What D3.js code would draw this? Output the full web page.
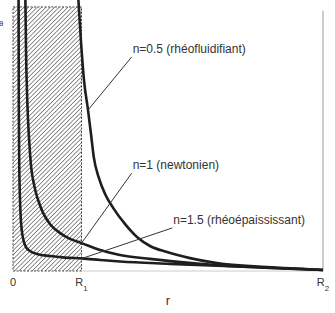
<!DOCTYPE html>
<html lang="fr">
<head>
    <meta charset="UTF-8">
    <title>Couette - profils</title>
    <script src="https://d3js.org/d3.v7.min.js"></script>
    <style>
        body { margin: 0; background: #fff; }
        text { font-family: "Liberation Sans", Arial, sans-serif; fill: #333; }
    </style>
</head>
<body>
    <div id="chart"></div>
    <script>
        // radius positions (R2 = 1) and values
        var R1 = 0.221, R2 = 1;

        var rA = [0.208, 0.211, 0.219, 0.229, 0.242, 0.252, 0.261, 0.277, 0.297, 0.323, 0.361, 0.400, 0.442, 0.497, 0.571, 0.658, 0.819, 1.0];
        var vA = [108.7, 103.0, 87.8, 72.6, 61.2, 51.7, 43.0, 35.4, 29.3, 24.0, 17.9, 12.9, 9.5, 7.2, 4.9, 3.0, 1.5, 0.4];

        var rB = [0.039, 0.040, 0.042, 0.046, 0.052, 0.058, 0.068, 0.081, 0.097, 0.119, 0.152, 0.184, 0.221, 0.281, 0.345, 0.442, 0.603, 0.765, 1.0];
        var vB = [108.7, 103.0, 84.0, 65.0, 49.8, 40.3, 32.7, 27.0, 22.1, 17.9, 14.4, 12.2, 10.6, 8.0, 6.1, 4.6, 2.7, 1.5, 0.4];

        var rC = [0.0177, 0.018, 0.0187, 0.020, 0.0226, 0.0258, 0.0323, 0.0419, 0.0548, 0.0774, 0.119, 0.168, 0.222, 0.281, 0.345, 0.506, 0.765, 1.0];
        var vC = [108.7, 103.0, 65.0, 42.2, 27.0, 18.6, 12.5, 9.1, 7.6, 6.5, 5.7, 5.1, 4.8, 4.2, 3.6, 2.7, 1.5, 0.4];

        var seriesNames = ["n=0.5 (rhéofluidifiant)", "n=1 (newtonien)", "n=1.5 (rhéoépaississant)"];
        // where each leader line touches its curve (r, value)
        var leaderR = [0.242, R1, R1];
        var leaderV = [61.2, 10.6, 4.7];
        // label anchor (r, value)
        var labelR = [0.386, 0.386, 0.517];
        var labelV = [82.9, 38.7, 17.9];

        var tickPos = [0, R1, R2];
        var tickMain = ["0", "R", "R"];
        var tickSub = ["", "1", "2"];

        var W = 335, H = 313;
        var x = d3.scaleLinear().domain([0, 1]).range([13, 323]);
        var y = d3.scaleLinear().domain([0, 100]).range([271, 8]);

        var svg = d3.select("#chart").append("svg")
            .attr("width", W).attr("height", H);

        // hatch pattern for the inner cylinder zone
        var pat = svg.append("defs").append("pattern")
            .attr("id", "hatch")
            .attr("patternUnits", "userSpaceOnUse")
            .attr("width", 3.1).attr("height", 3.1)
            .attr("patternTransform", "rotate(45)");
        pat.append("line")
            .attr("x1", 0).attr("y1", 0).attr("x2", 0).attr("y2", 3.1)
            .attr("stroke", "#555").attr("stroke-width", 1.3);

        svg.append("rect")
            .attr("x", x(0)).attr("y", y(100.4))
            .attr("width", x(R1) - x(0)).attr("height", y(0) - y(100.4))
            .attr("fill", "url(#hatch)")
            .attr("stroke", "#444").attr("stroke-width", 1)
            .attr("stroke-dasharray", "2,1.5");

        // outer wall and bottom
        svg.append("line")
            .attr("x1", x(R2)).attr("x2", x(R2))
            .attr("y1", y(99)).attr("y2", y(0))
            .attr("stroke", "#bbb").attr("stroke-width", 1.5);
        svg.append("line")
            .attr("x1", x(R1)).attr("x2", x(R2))
            .attr("y1", y(0)).attr("y2", y(0))
            .attr("stroke", "#ccc").attr("stroke-width", 1);

        var line = d3.line()
            .x(function(d) { return x(d[0]); })
            .y(function(d) { return y(d[1]); })
            .curve(d3.curveMonotoneX);

        [[rA, vA], [rB, vB], [rC, vC]].forEach(function(s) {
            svg.append("path")
                .datum(d3.zip(s[0], s[1]))
                .attr("d", line)
                .attr("fill", "none")
                .attr("stroke", "#1e1e1e")
                .attr("stroke-width", 2.6);
        });

        // leader lines and labels
        seriesNames.forEach(function(name, i) {
            svg.append("line")
                .attr("x1", x(labelR[i]) - 1).attr("y1", y(labelV[i]) + 4)
                .attr("x2", x(leaderR[i])).attr("y2", y(leaderV[i]))
                .attr("stroke", "#333").attr("stroke-width", 1);
            svg.append("text")
                .attr("x", x(labelR[i])).attr("y", y(labelV[i]))
                .attr("font-size", 12)
                .text(name);
        });

        // x ticks
        tickPos.forEach(function(p, i) {
            var t = svg.append("text")
                .attr("x", x(p)).attr("y", 286)
                .attr("text-anchor", "middle")
                .attr("font-size", 11);
            t.append("tspan").text(tickMain[i]);
            if (tickSub[i]) {
                t.append("tspan").attr("dy", 5).attr("font-size", 8).text(tickSub[i]);
            }
        });

        svg.append("text")
            .attr("x", 168).attr("y", 305)
            .attr("text-anchor", "middle")
            .attr("font-size", 13)
            .text("r");

        // y label, cut off at the left edge
        svg.append("text")
            .attr("x", -1).attr("y", 26)
            .attr("font-size", 8)
            .text("θ");
    </script>
</body>
</html>
